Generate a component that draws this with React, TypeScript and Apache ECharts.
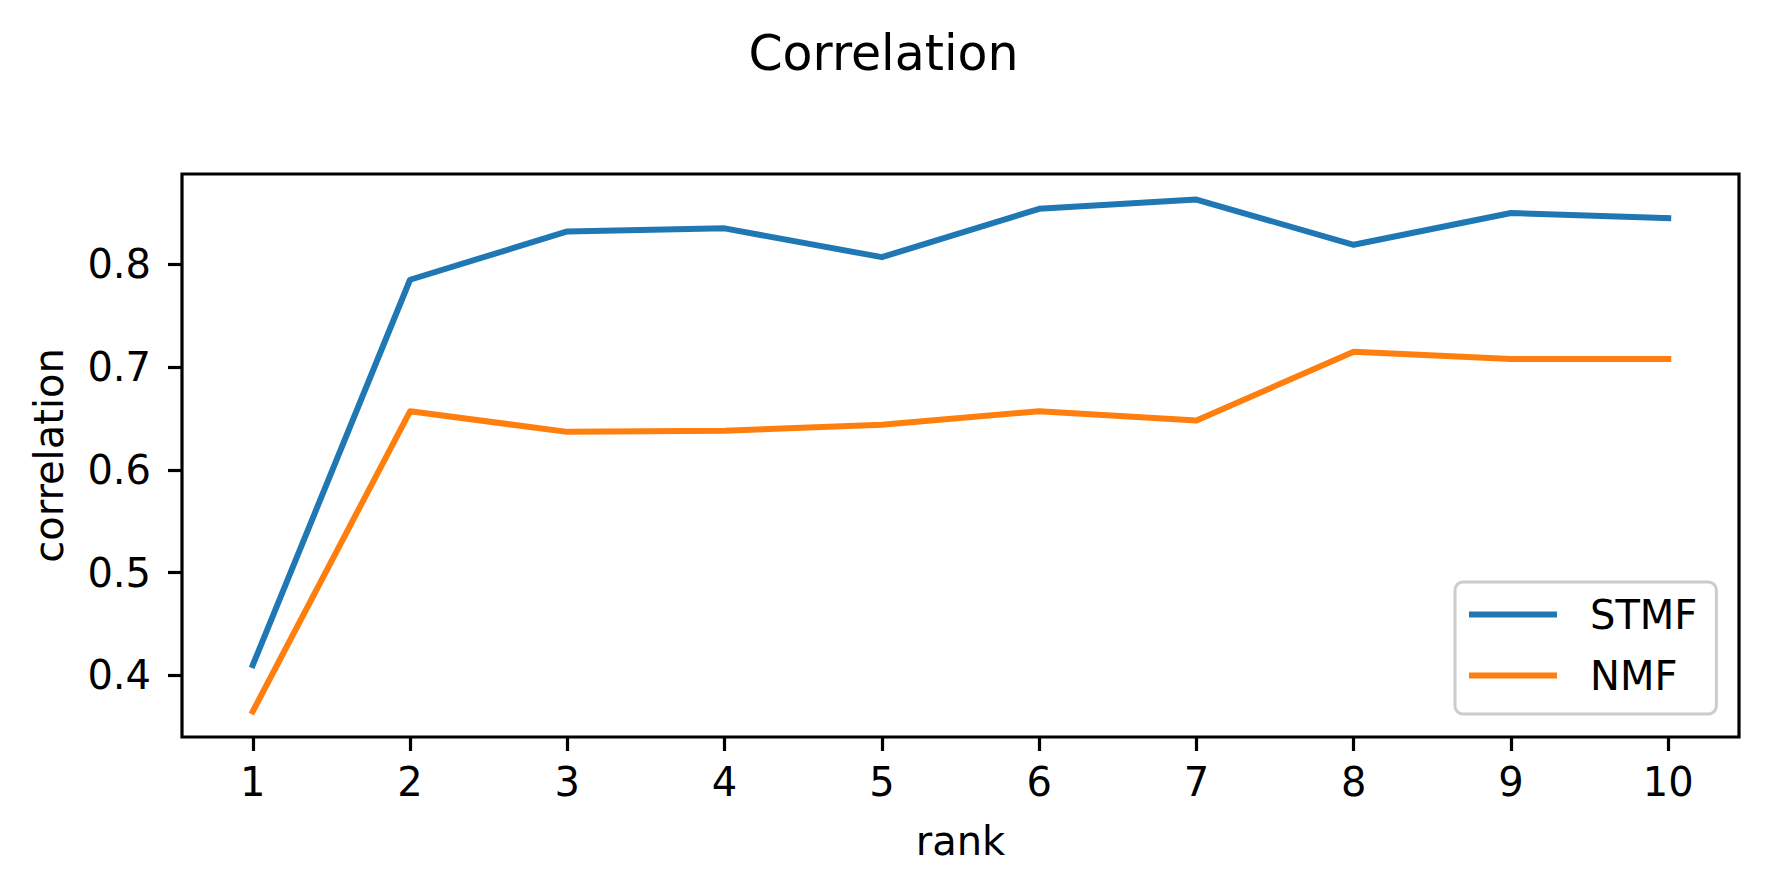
import React, { useEffect, useRef } from 'react';
import * as echarts from 'echarts';

const ranks = [1, 2, 3, 4, 5, 6, 7, 8, 9, 10];
const stmfValues = [0.41, 0.785, 0.832, 0.835, 0.807, 0.854, 0.863, 0.819, 0.85, 0.845];
const nmfValues = [0.365, 0.657, 0.637, 0.638, 0.644, 0.657, 0.648, 0.715, 0.708, 0.708];
const yTicks = [0.4, 0.5, 0.6, 0.7, 0.8];
const seriesNames = ['STMF', 'NMF'];
const seriesColors = ['#1f77b4', '#ff7f0e'];
const titleText = 'Correlation';
const xName = 'rank';
const yName = 'correlation';

const FONT = '"DejaVu Sans", Verdana, sans-serif';

export default function App() {
  const ref = useRef<HTMLDivElement>(null);

  useEffect(() => {
    if (!ref.current) return;
    const chart = echarts.init(ref.current, null, { renderer: 'svg' });
    const all = [...stmfValues, ...nmfValues];
    const yLo = Math.min(...all);
    const yHi = Math.max(...all);
    const yPad = (yHi - yLo) * 0.05;
    const xLo = ranks[0];
    const xHi = ranks[ranks.length - 1];
    const xPad = (xHi - xLo) * 0.05;

    const textBase = { fontFamily: FONT, color: '#000', fontSize: 40 };
    const seriesData = [stmfValues, nmfValues];

    chart.setOption({
      animation: false,
      backgroundColor: '#ffffff',
      title: {
        text: titleText,
        left: 'center',
        top: 24,
        textStyle: { fontFamily: FONT, fontSize: 49, fontWeight: 'normal', color: '#000' },
      },
      grid: {
        left: 182,
        right: 28,
        top: 174,
        bottom: 156,
        show: true,
        borderColor: '#000',
        borderWidth: 3.2,
        backgroundColor: 'transparent',
        containLabel: false,
        outerBoundsMode: 'none',
      },
      legend: {
        orient: 'vertical',
        left: 1455,
        top: 582,
        padding: [12.5, 19, 18.5, 14],
        itemWidth: 88,
        itemHeight: 6,
        itemGap: 21,
        icon: 'rect',
        backgroundColor: 'rgba(255,255,255,0.8)',
        borderColor: '#cccccc',
        borderWidth: 3,
        borderRadius: 8,
        textStyle: { ...textBase, lineHeight: 40, padding: [0, 0, 0, 28] },
        data: seriesNames,
      },
      xAxis: {
        type: 'value',
        min: xLo - xPad,
        max: xHi + xPad,
        name: xName,
        nameLocation: 'middle',
        nameGap: 84,
        nameTextStyle: textBase,
        axisLine: { show: false },
        splitLine: { show: false },
        axisTick: {
          show: true,
          customValues: ranks,
          length: 14,
          lineStyle: { color: '#000', width: 3.2 },
        },
        axisLabel: {
          customValues: ranks,
          margin: 25,
          ...textBase,
          formatter: (v: number) => String(Math.round(v)),
        },
      },
      yAxis: {
        type: 'value',
        min: yLo - yPad,
        max: yHi + yPad,
        name: yName,
        nameLocation: 'middle',
        nameGap: 113,
        nameRotate: 90,
        nameTextStyle: textBase,
        axisLine: { show: false },
        splitLine: { show: false },
        axisTick: {
          show: true,
          customValues: yTicks,
          length: 14,
          lineStyle: { color: '#000', width: 3.2 },
        },
        axisLabel: {
          customValues: yTicks,
          margin: 31,
          ...textBase,
          formatter: (v: number) => v.toFixed(1),
        },
      },
      series: seriesNames.map((name, i) => ({
        name,
        type: 'line',
        data: ranks.map((r, j) => [r, seriesData[i][j]]),
        symbol: 'none',
        showSymbol: false,
        color: seriesColors[i],
        lineStyle: { color: seriesColors[i], width: 6, cap: 'square', join: 'round' },
        itemStyle: { color: seriesColors[i] },
        emphasis: { disabled: true },
      })),
    });

    return () => {
      chart.dispose();
    };
  }, []);

  return (
    <div
      ref={ref}
      style={{ position: 'fixed', left: 0, top: 0, width: 1767, height: 893, background: '#fff' }}
    />
  );
}
